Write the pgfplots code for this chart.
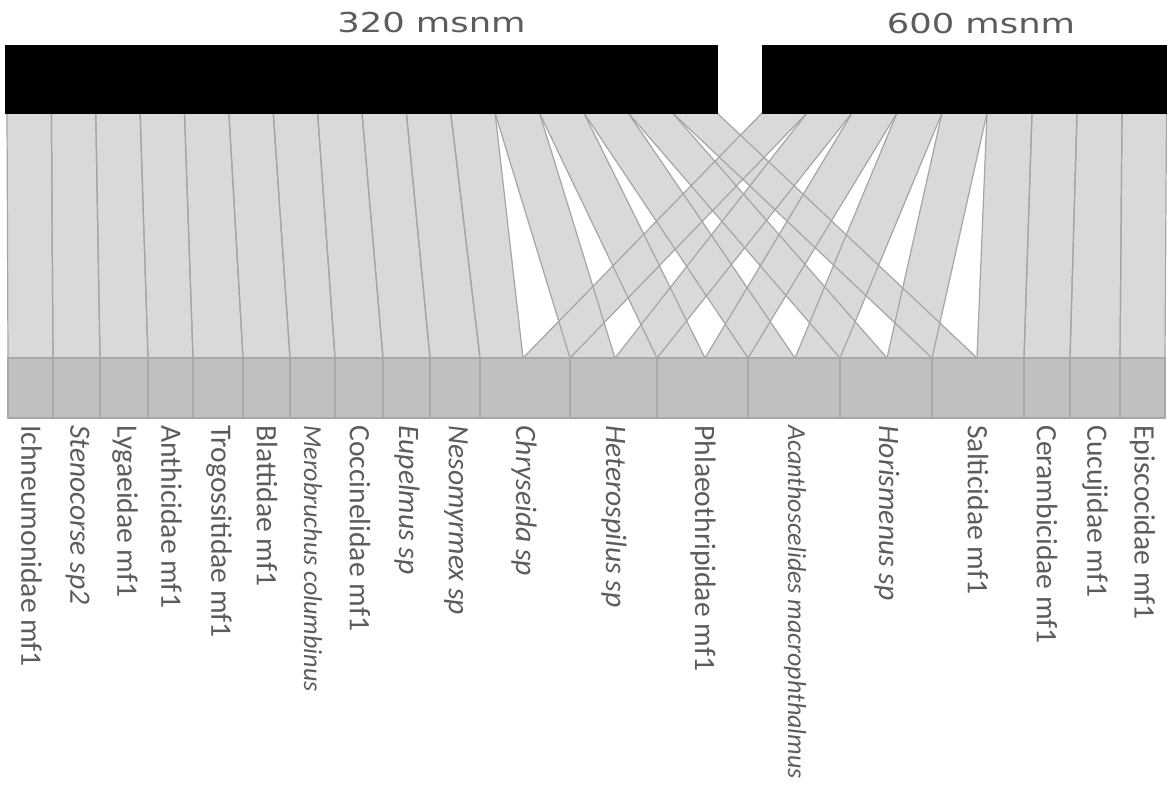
\documentclass[border=0pt]{standalone}
\usepackage{pgfplots}
\pgfplotsset{compat=1.18}
\usepackage{graphicx}
\usepackage{fontspec}
\setmainfont{Carlito}
\newfontfamily\topfont{DejaVu Sans}
\definecolor{linkfill}{RGB}{217,217,217}
\definecolor{linkdraw}{RGB}{165,165,165}
\definecolor{boxfill}{RGB}{192,192,192}
\definecolor{boxdraw}{RGB}{168,168,168}
\definecolor{labelgray}{RGB}{92,92,92}
\begin{document}
\begin{tikzpicture}
\begin{axis}[
  width=583.5pt, height=212.5pt, scale only axis,
  xmin=0, xmax=1167, ymin=-425, ymax=0,
  enlargelimits=false, clip=false,
  axis line style={draw=none}, major tick length=0pt,
  ytick=\empty,
  xtick={31.5,77.5,125,171.5,219,267,313,360,407,456,524,614,703,795,887,978,1047,1095,1142.5},
  xticklabels={Ichneumonidae mf1,\textit{Stenocorse sp2},Lygaeidae mf1,Anthicidae mf1,Trogossitidae mf1,Blattidae mf1,{\fontsize{13}{14}\selectfont\textit{Merobruchus columbinus}},Coccinelidae mf1,\textit{Eupelmus sp},\textit{Nesomyrmex sp},\textit{Chryseida sp},\textit{Heterospilus sp},Phlaeothripidae mf1,{\fontsize{13}{14}\selectfont\textit{Acanthoscelides macrophthalmus}},\textit{Horismenus sp},Salticidae mf1,Cerambicidae mf1,Cucujidae mf1,Episcocidae mf1},
  xticklabel style={rotate=-90, anchor=west, inner sep=0pt, text=labelgray, font=\fontsize{14.8}{16}\selectfont},
  lf/.style={fill=linkfill, draw=none},
  ld/.style={draw=linkdraw, fill=none, line width=0.6pt},
  bx/.style={fill=boxfill, draw=boxdraw, line width=0.6pt},
  every axis plot post/.append style={mark=none},
]
% link fills: 320 msnm
\addplot[lf] coordinates {(7,-113) (51.4,-113) (53,-358) (8,-358)} --cycle;
\addplot[lf] coordinates {(51.4,-113) (95.75,-113) (100,-358) (53,-358)} --cycle;
\addplot[lf] coordinates {(95.75,-113) (140.1,-113) (148,-358) (100,-358)} --cycle;
\addplot[lf] coordinates {(140.1,-113) (184.5,-113) (193,-358) (148,-358)} --cycle;
\addplot[lf] coordinates {(184.5,-113) (228.9,-113) (243,-358) (193,-358)} --cycle;
\addplot[lf] coordinates {(228.9,-113) (273.25,-113) (290,-358) (243,-358)} --cycle;
\addplot[lf] coordinates {(273.25,-113) (317.6,-113) (335,-358) (290,-358)} --cycle;
\addplot[lf] coordinates {(317.6,-113) (362,-113) (383,-358) (335,-358)} --cycle;
\addplot[lf] coordinates {(362,-113) (406.4,-113) (430,-358) (383,-358)} --cycle;
\addplot[lf] coordinates {(406.4,-113) (450.75,-113) (480,-358) (430,-358)} --cycle;
\addplot[lf] coordinates {(450.75,-113) (495.1,-113) (523,-358) (480,-358)} --cycle;
\addplot[lf] coordinates {(495.1,-113) (539.5,-113) (615,-358) (570,-358)} --cycle;
\addplot[lf] coordinates {(539.5,-113) (583.9,-113) (705,-358) (657,-358)} --cycle;
\addplot[lf] coordinates {(583.9,-113) (628.25,-113) (795,-358) (748,-358)} --cycle;
\addplot[lf] coordinates {(628.25,-113) (672.6,-113) (887,-358) (840,-358)} --cycle;
\addplot[lf] coordinates {(672.6,-113) (717,-113) (977,-358) (932,-358)} --cycle;
% link fills: 600 msnm
\addplot[lf] coordinates {(762,-113) (807,-113) (570,-358) (523,-358)} --cycle;
\addplot[lf] coordinates {(807,-113) (852,-113) (657,-358) (615,-358)} --cycle;
\addplot[lf] coordinates {(852,-113) (897,-113) (748,-358) (705,-358)} --cycle;
\addplot[lf] coordinates {(897,-113) (942,-113) (840,-358) (795,-358)} --cycle;
\addplot[lf] coordinates {(942,-113) (987,-113) (932,-358) (887,-358)} --cycle;
\addplot[lf] coordinates {(987,-113) (1032,-113) (1024,-358) (977,-358)} --cycle;
\addplot[lf] coordinates {(1032,-113) (1077,-113) (1070,-358) (1024,-358)} --cycle;
\addplot[lf] coordinates {(1077,-113) (1122,-113) (1120,-358) (1070,-358)} --cycle;
\addplot[lf] coordinates {(1122,-113) (1166.5,-113) (1165,-358) (1120,-358)} --cycle;
% link outlines: 320 msnm
\addplot[ld] coordinates {(7,-113) (51.4,-113) (53,-358) (8,-358)} --cycle;
\addplot[ld] coordinates {(51.4,-113) (95.75,-113) (100,-358) (53,-358)} --cycle;
\addplot[ld] coordinates {(95.75,-113) (140.1,-113) (148,-358) (100,-358)} --cycle;
\addplot[ld] coordinates {(140.1,-113) (184.5,-113) (193,-358) (148,-358)} --cycle;
\addplot[ld] coordinates {(184.5,-113) (228.9,-113) (243,-358) (193,-358)} --cycle;
\addplot[ld] coordinates {(228.9,-113) (273.25,-113) (290,-358) (243,-358)} --cycle;
\addplot[ld] coordinates {(273.25,-113) (317.6,-113) (335,-358) (290,-358)} --cycle;
\addplot[ld] coordinates {(317.6,-113) (362,-113) (383,-358) (335,-358)} --cycle;
\addplot[ld] coordinates {(362,-113) (406.4,-113) (430,-358) (383,-358)} --cycle;
\addplot[ld] coordinates {(406.4,-113) (450.75,-113) (480,-358) (430,-358)} --cycle;
\addplot[ld] coordinates {(450.75,-113) (495.1,-113) (523,-358) (480,-358)} --cycle;
\addplot[ld] coordinates {(495.1,-113) (539.5,-113) (615,-358) (570,-358)} --cycle;
\addplot[ld] coordinates {(539.5,-113) (583.9,-113) (705,-358) (657,-358)} --cycle;
\addplot[ld] coordinates {(583.9,-113) (628.25,-113) (795,-358) (748,-358)} --cycle;
\addplot[ld] coordinates {(628.25,-113) (672.6,-113) (887,-358) (840,-358)} --cycle;
\addplot[ld] coordinates {(672.6,-113) (717,-113) (977,-358) (932,-358)} --cycle;
% link outlines: 600 msnm
\addplot[ld] coordinates {(762,-113) (807,-113) (570,-358) (523,-358)} --cycle;
\addplot[ld] coordinates {(807,-113) (852,-113) (657,-358) (615,-358)} --cycle;
\addplot[ld] coordinates {(852,-113) (897,-113) (748,-358) (705,-358)} --cycle;
\addplot[ld] coordinates {(897,-113) (942,-113) (840,-358) (795,-358)} --cycle;
\addplot[ld] coordinates {(942,-113) (987,-113) (932,-358) (887,-358)} --cycle;
\addplot[ld] coordinates {(987,-113) (1032,-113) (1024,-358) (977,-358)} --cycle;
\addplot[ld] coordinates {(1032,-113) (1077,-113) (1070,-358) (1024,-358)} --cycle;
\addplot[ld] coordinates {(1077,-113) (1122,-113) (1120,-358) (1070,-358)} --cycle;
\addplot[ld] coordinates {(1122,-113) (1166.5,-113) (1165,-358) (1120,-358)} --cycle;
% lower boxes
\addplot[bx] coordinates {(8,-358) (53,-358) (53,-418) (8,-418)} --cycle;
\addplot[bx] coordinates {(53,-358) (100,-358) (100,-418) (53,-418)} --cycle;
\addplot[bx] coordinates {(100,-358) (148,-358) (148,-418) (100,-418)} --cycle;
\addplot[bx] coordinates {(148,-358) (193,-358) (193,-418) (148,-418)} --cycle;
\addplot[bx] coordinates {(193,-358) (243,-358) (243,-418) (193,-418)} --cycle;
\addplot[bx] coordinates {(243,-358) (290,-358) (290,-418) (243,-418)} --cycle;
\addplot[bx] coordinates {(290,-358) (335,-358) (335,-418) (290,-418)} --cycle;
\addplot[bx] coordinates {(335,-358) (383,-358) (383,-418) (335,-418)} --cycle;
\addplot[bx] coordinates {(383,-358) (430,-358) (430,-418) (383,-418)} --cycle;
\addplot[bx] coordinates {(430,-358) (480,-358) (480,-418) (430,-418)} --cycle;
\addplot[bx] coordinates {(480,-358) (570,-358) (570,-418) (480,-418)} --cycle;
\addplot[bx] coordinates {(570,-358) (657,-358) (657,-418) (570,-418)} --cycle;
\addplot[bx] coordinates {(657,-358) (748,-358) (748,-418) (657,-418)} --cycle;
\addplot[bx] coordinates {(748,-358) (840,-358) (840,-418) (748,-418)} --cycle;
\addplot[bx] coordinates {(840,-358) (932,-358) (932,-418) (840,-418)} --cycle;
\addplot[bx] coordinates {(932,-358) (1024,-358) (1024,-418) (932,-418)} --cycle;
\addplot[bx] coordinates {(1024,-358) (1070,-358) (1070,-418) (1024,-418)} --cycle;
\addplot[bx] coordinates {(1070,-358) (1120,-358) (1120,-418) (1070,-418)} --cycle;
\addplot[bx] coordinates {(1120,-358) (1165,-358) (1165,-418) (1120,-418)} --cycle;
% upper boxes
\addplot[fill=black, draw=black] coordinates {(5,-45) (717,-45) (717,-113) (5,-113)} --cycle;
\addplot[fill=black, draw=black] coordinates {(762,-45) (1166.5,-45) (1166.5,-113) (762,-113)} --cycle;
\node[anchor=base, inner sep=0pt, text=labelgray, font=\topfont\fontsize{13.7}{15}\selectfont] at (axis cs:431.5,-32) {\scalebox{1.29}[1]{320 msnm}};
\node[anchor=base, inner sep=0pt, text=labelgray, font=\topfont\fontsize{13.7}{15}\selectfont] at (axis cs:981,-33) {\scalebox{1.29}[1]{600 msnm}};
\coordinate (bbTL) at (axis cs:0,0);
\coordinate (bbBR) at (axis cs:1167,-789);
\end{axis}
\pgfresetboundingbox
\path[use as bounding box] (bbTL) rectangle (bbBR);
\end{tikzpicture}
\end{document}
